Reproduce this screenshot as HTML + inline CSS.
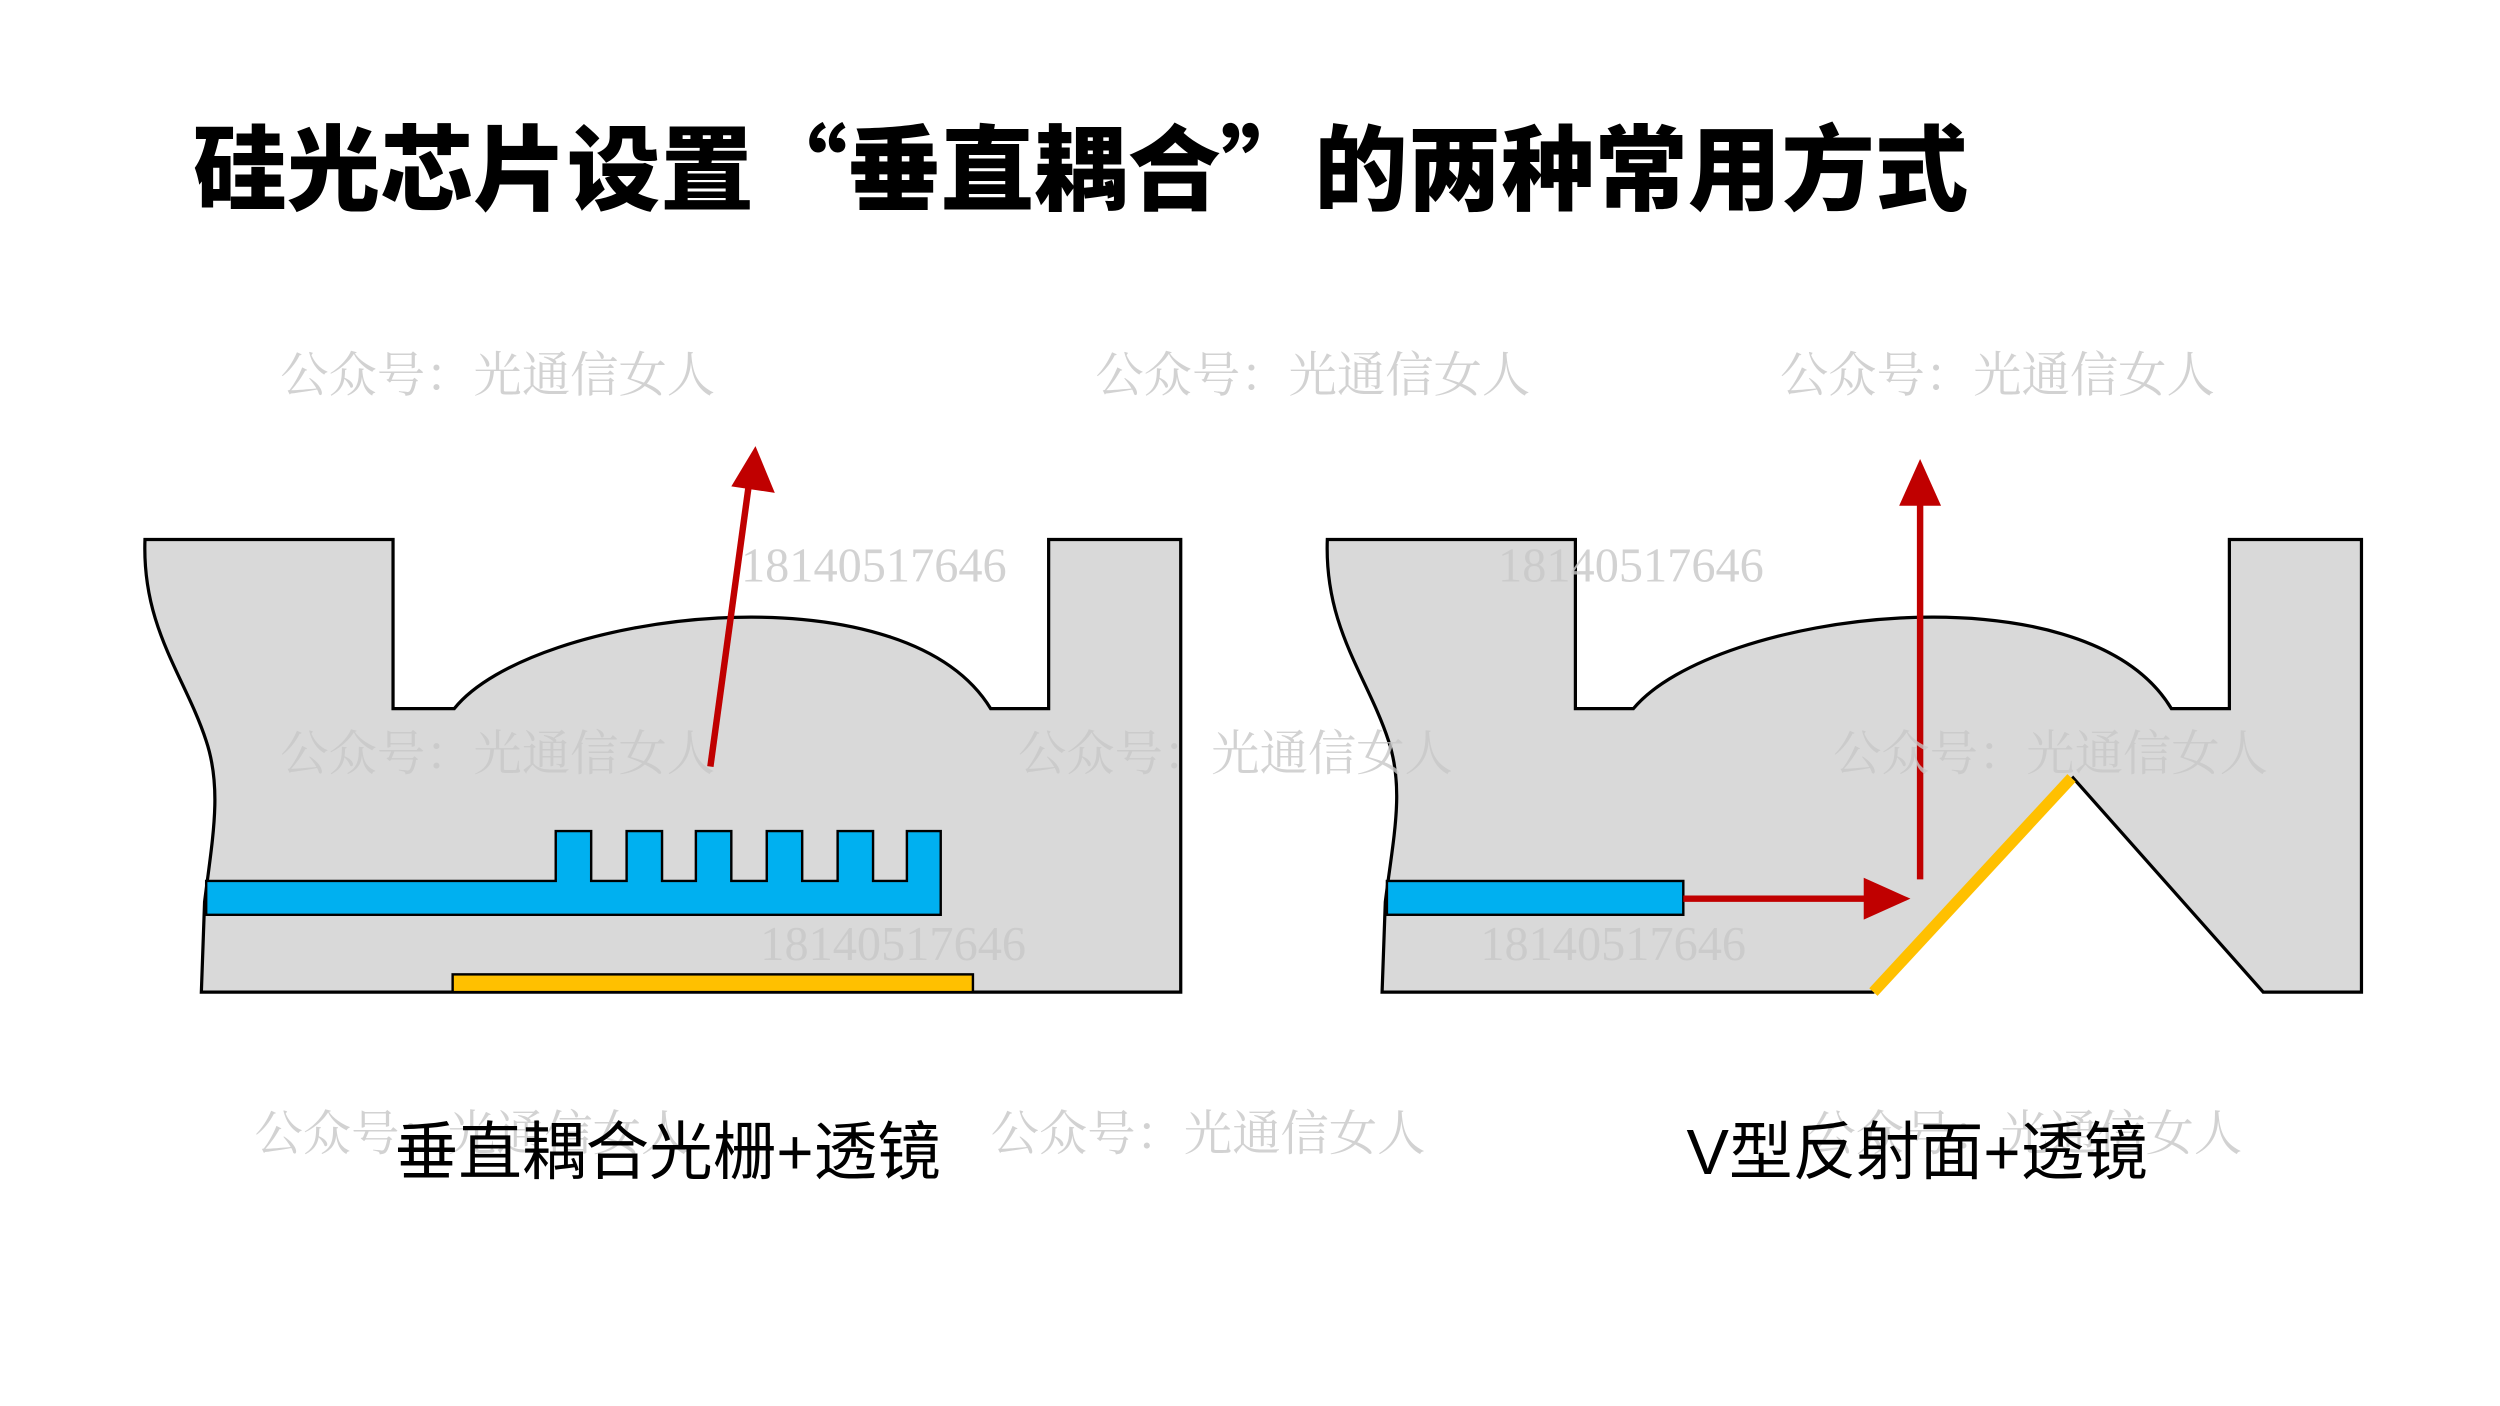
<!DOCTYPE html>
<html><head><meta charset="utf-8"><style>
html,body{margin:0;padding:0;background:#fff;}
svg{display:block;}
</style></head><body>
<svg width="2500" height="1406" viewBox="0 0 1552 873" preserveAspectRatio="none" xmlns="http://www.w3.org/2000/svg">
<rect width="1552" height="873" fill="#fff"/>
<text x="120" y="126" font-family="'Liberation Sans','Noto Sans CJK SC',sans-serif" font-weight="900" font-size="58" fill="#000">硅光芯片设置<tspan font-family="'Noto Sans CJK SC',sans-serif">“</tspan>垂直耦合<tspan font-family="'Noto Sans CJK SC',sans-serif">”</tspan>的两种常用方式</text>

<!-- Left shape -->
<path d="M90,335 L244,335 L244,440 L282,440 C330,380 560,350 615,440 L651,440 L651,335 L733,335 L733,616 L125,616 L127,560 C132,520 138,490 128,460 C115,420 88,390 90,335 Z" fill="#d9d9d9" stroke="#000" stroke-width="2"/>
<path d="M128,547 L345,547 L345,516 L367,516 L367,547 L389,547 L389,516 L411,516 L411,547 L432,547 L432,516 L454,516 L454,547 L476,547 L476,516 L498,516 L498,547 L520,547 L520,516 L542,516 L542,547 L563,547 L563,516 L584,516 L584,568 L128,568 Z" fill="#00b0f0" stroke="#000" stroke-width="1.5"/>
<rect x="281" y="605" width="323" height="11" fill="#ffc000" stroke="#000" stroke-width="1.5"/>
<line x1="441" y1="476" x2="465" y2="300" stroke="#c00000" stroke-width="4"/>
<polygon points="469,277 481,306 454,302" fill="#c00000"/>

<!-- Right shape -->
<path d="M824,335 L978,335 L978,440 L1014,440 C1064,380 1294,350 1348,440 L1384,440 L1384,335 L1466,335 L1466,616 L1405,616 L1287,483 L1163,616 L858,616 L860,560 C865,520 872,490 862,460 C849,420 822,390 824,335 Z" fill="#d9d9d9" stroke="#000" stroke-width="2"/>
<rect x="861" y="547" width="184" height="21" fill="#00b0f0" stroke="#000" stroke-width="1.5"/>
<line x1="1163" y1="616" x2="1286" y2="483" stroke="#ffc000" stroke-width="7"/>
<line x1="1045" y1="558" x2="1160" y2="558" stroke="#c00000" stroke-width="4"/>
<polygon points="1186,558 1157,545 1157,571" fill="#c00000"/>
<line x1="1192" y1="546" x2="1192" y2="310" stroke="#c00000" stroke-width="4"/>
<polygon points="1192,285 1179,314 1205,314" fill="#c00000"/>

<!-- watermarks -->
<g font-family="'Liberation Serif','Noto Serif CJK SC',serif" font-size="30" fill="#c8c8c8" opacity="0.8">
<text x="174" y="243">公众号：光通信女人</text>
<text x="680" y="243">公众号：光通信女人</text>
<text x="1105" y="243">公众号：光通信女人</text>
<text x="174" y="478">公众号：光通信女人</text>
<text x="632" y="478">公众号：光通信女人</text>
<text x="1138" y="478">公众号：光通信女人</text>
<text x="158" y="714">公众号：光通信女人</text>
<text x="615" y="714">公众号：光通信女人</text>
<text x="1122" y="714">公众号：光通信女人</text>
<text x="460" y="361">18140517646</text>
<text x="930" y="361">18140517646</text>
<text x="472" y="596">18140517646</text>
<text x="919" y="596">18140517646</text>
</g>

<g font-family="'Liberation Sans','Noto Sans CJK SC',sans-serif" font-size="39.5" fill="#000">
<text x="245" y="729">垂直耦合光栅+透镜</text>
<text x="1047" y="729">V型反射面+透镜</text>
</g>
</svg>
</body></html>
